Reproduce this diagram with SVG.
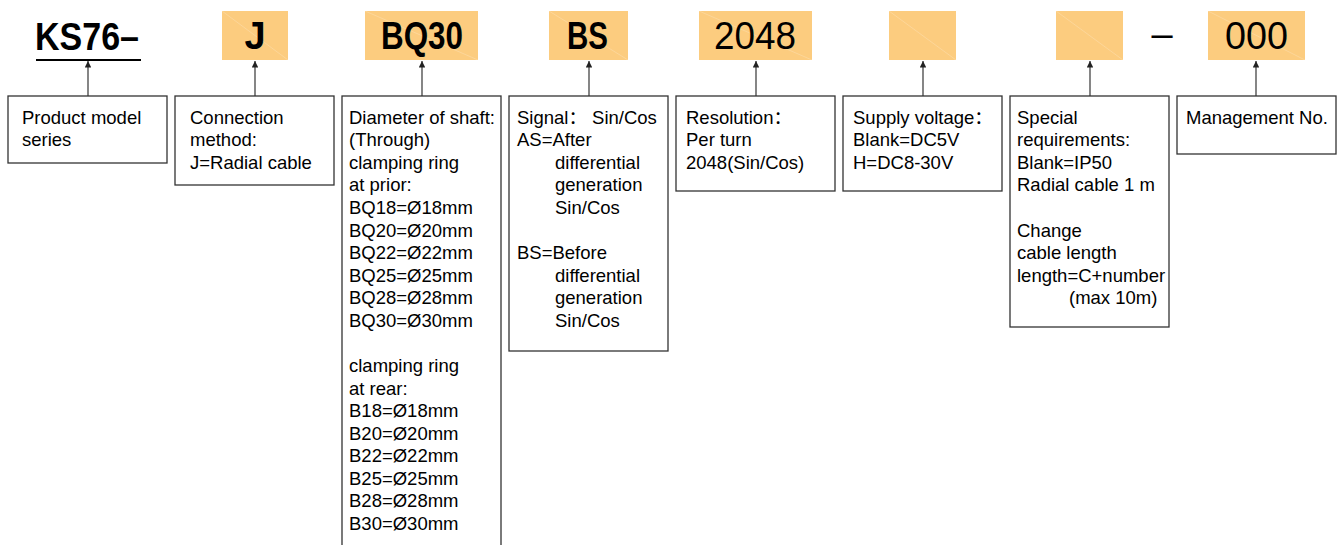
<svg xmlns="http://www.w3.org/2000/svg" width="1340" height="545" viewBox="0 0 1340 545">
<style>
.hdr{fill:#FCCC7F}
.diag{stroke:#ffffff;stroke-opacity:0.25;stroke-width:0.8}
.box{fill:#ffffff;stroke:#333333;stroke-width:1.3}
.conn{stroke:#444444;stroke-width:1.3;fill:none}
.t{font-family:"Liberation Sans","Noto Sans CJK SC",Arial,sans-serif;font-size:18.5px;fill:#000000}
.hb{font-family:"Liberation Sans",Arial,sans-serif;font-size:38px;font-weight:bold;fill:#000000}
.hr{font-family:"Liberation Sans",Arial,sans-serif;font-size:38px;fill:#000000}
</style>
<defs>
<marker id="arr" viewBox="0 0 10 10" refX="10" refY="5" markerWidth="9" markerHeight="6.5" markerUnits="userSpaceOnUse" orient="auto">
<path d="M0,0 L10,5 L0,10 z" fill="#222222"/>
</marker>
</defs>

<g id="header-ks76">
<text class="hb" x="35" y="50" textLength="104" lengthAdjust="spacingAndGlyphs">KS76–</text>
<line x1="36" y1="60" x2="141" y2="60" stroke="#000" stroke-width="2"/>
</g>
<g id="header-j">
<rect class="hdr" x="222" y="11" width="66" height="49"/>
<line class="diag" x1="222" y1="11" x2="288" y2="60"/>
<text class="hb" x="255" y="49" text-anchor="middle">J</text>
</g>
<g id="header-bq30">
<rect class="hdr" x="365" y="11" width="113" height="49"/>
<line class="diag" x1="365" y1="11" x2="478" y2="60"/>
<text class="hb" x="381" y="49" textLength="82" lengthAdjust="spacingAndGlyphs">BQ30</text>
</g>
<g id="header-bs">
<rect class="hdr" x="549" y="11" width="79" height="49"/>
<line class="diag" x1="549" y1="11" x2="628" y2="60"/>
<text class="hb" x="567" y="49" textLength="41" lengthAdjust="spacingAndGlyphs">BS</text>
</g>
<g id="header-2048">
<rect class="hdr" x="699" y="11" width="113" height="49"/>
<line class="diag" x1="699" y1="11" x2="812" y2="60"/>
<text class="hr" x="714" y="49" textLength="82" lengthAdjust="spacingAndGlyphs">2048</text>
</g>
<g id="header-voltage">
<rect class="hdr" x="889" y="11" width="67" height="49"/>
<line class="diag" x1="889" y1="11" x2="956" y2="60"/>
</g>
<g id="header-special">
<rect class="hdr" x="1056" y="11" width="67" height="49"/>
<line class="diag" x1="1056" y1="11" x2="1123" y2="60"/>
</g>
<g id="header-dash">
<text class="hr" x="1162" y="47" text-anchor="middle">–</text>
</g>
<g id="header-000">
<rect class="hdr" x="1208" y="11" width="97" height="49"/>
<line class="diag" x1="1208" y1="11" x2="1305" y2="60"/>
<text class="hr" x="1225" y="49" textLength="63" lengthAdjust="spacingAndGlyphs">000</text>
</g>

<g id="connectors">
<line class="conn" x1="88" y1="96" x2="88" y2="61" marker-end="url(#arr)"/>
<line class="conn" x1="255" y1="96" x2="255" y2="61" marker-end="url(#arr)"/>
<line class="conn" x1="422" y1="96" x2="422" y2="61" marker-end="url(#arr)"/>
<line class="conn" x1="589" y1="96" x2="589" y2="61" marker-end="url(#arr)"/>
<line class="conn" x1="756" y1="96" x2="756" y2="61" marker-end="url(#arr)"/>
<line class="conn" x1="923" y1="96" x2="923" y2="61" marker-end="url(#arr)"/>
<line class="conn" x1="1090" y1="96" x2="1090" y2="61" marker-end="url(#arr)"/>
<line class="conn" x1="1256" y1="96" x2="1256" y2="61" marker-end="url(#arr)"/>
</g>

<g id="box-series">
<rect class="box" x="8" y="96" width="159" height="67"/>
<text class="t" x="22" y="124">Product model</text>
<text class="t" x="22" y="146">series</text>
</g>
<g id="box-connection">
<rect class="box" x="175" y="96" width="159" height="89"/>
<text class="t" x="190" y="124">Connection</text>
<text class="t" x="190" y="146">method:</text>
<text class="t" x="190" y="169">J=Radial cable</text>
</g>
<g id="box-shaft">
<rect class="box" x="342" y="96" width="159" height="460"/>
<text class="t" x="349" y="124">Diameter of shaft:</text>
<text class="t" x="349" y="146">(Through)</text>
<text class="t" x="349" y="169">clamping ring</text>
<text class="t" x="349" y="191">at prior:</text>
<text class="t" x="349" y="214">BQ18=Ø18mm</text>
<text class="t" x="349" y="237">BQ20=Ø20mm</text>
<text class="t" x="349" y="259">BQ22=Ø22mm</text>
<text class="t" x="349" y="282">BQ25=Ø25mm</text>
<text class="t" x="349" y="304">BQ28=Ø28mm</text>
<text class="t" x="349" y="327">BQ30=Ø30mm</text>
<text class="t" x="349" y="372">clamping ring</text>
<text class="t" x="349" y="395">at rear:</text>
<text class="t" x="349" y="417">B18=Ø18mm</text>
<text class="t" x="349" y="440">B20=Ø20mm</text>
<text class="t" x="349" y="462">B22=Ø22mm</text>
<text class="t" x="349" y="485">B25=Ø25mm</text>
<text class="t" x="349" y="507">B28=Ø28mm</text>
<text class="t" x="349" y="530">B30=Ø30mm</text>
</g>
<g id="box-signal">
<rect class="box" x="509" y="96" width="159" height="255"/>
<text class="t" x="517" y="124">Signal： Sin/Cos</text>
<text class="t" x="517" y="146">AS=After</text>
<text class="t" x="555" y="169">differential</text>
<text class="t" x="555" y="191">generation</text>
<text class="t" x="555" y="214">Sin/Cos</text>
<text class="t" x="517" y="259">BS=Before</text>
<text class="t" x="555" y="282">differential</text>
<text class="t" x="555" y="304">generation</text>
<text class="t" x="555" y="327">Sin/Cos</text>
</g>
<g id="box-resolution">
<rect class="box" x="676" y="96" width="159" height="95"/>
<text class="t" x="686" y="124">Resolution：</text>
<text class="t" x="686" y="146">Per turn</text>
<text class="t" x="686" y="169">2048(Sin/Cos)</text>
</g>
<g id="box-voltage">
<rect class="box" x="843" y="96" width="159" height="95"/>
<text class="t" x="853" y="124">Supply voltage：</text>
<text class="t" x="853" y="146">Blank=DC5V</text>
<text class="t" x="853" y="169">H=DC8-30V</text>
</g>
<g id="box-special">
<rect class="box" x="1010" y="96" width="159" height="231"/>
<text class="t" x="1017" y="124">Special</text>
<text class="t" x="1017" y="146">requirements:</text>
<text class="t" x="1017" y="169">Blank=IP50</text>
<text class="t" x="1017" y="191">Radial cable 1 m</text>
<text class="t" x="1017" y="237">Change</text>
<text class="t" x="1017" y="259">cable length</text>
<text class="t" x="1017" y="282">length=C+number</text>
<text class="t" x="1069" y="304">(max 10m)</text>
</g>
<g id="box-management">
<rect class="box" x="1177" y="96" width="159" height="58"/>
<text class="t" x="1186" y="124">Management No.</text>
</g>
</svg>
